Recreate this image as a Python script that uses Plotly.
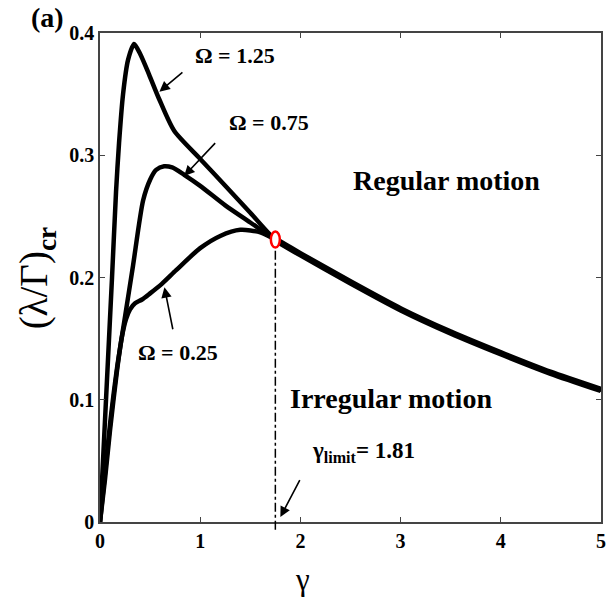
import plotly.graph_objects as go

# ---- data ----
omega_labels = ["Ω = 1.25", "Ω = 0.75", "Ω = 0.25"]

x_w125 = [0, 0.06, 0.12, 0.16, 0.19, 0.23, 0.28, 0.34, 0.40, 0.49, 0.59, 0.74, 1.0, 1.25, 1.5, 1.75]
y_w125 = [0, 0.10, 0.20, 0.27, 0.31, 0.35, 0.378, 0.391, 0.383, 0.366, 0.346, 0.320, 0.297, 0.275, 0.253, 0.231]

x_w075 = [0, 0.05, 0.10, 0.17, 0.25, 0.33, 0.43, 0.50, 0.56, 0.64, 0.72, 0.84, 1.0, 1.25, 1.5, 1.75]
y_w075 = [0, 0.04, 0.08, 0.126, 0.168, 0.210, 0.263, 0.280, 0.288, 0.291, 0.290, 0.284, 0.275, 0.259, 0.245, 0.231]

x_w025 = [0, 0.05, 0.10, 0.17, 0.22, 0.26, 0.30, 0.35, 0.42, 0.50, 0.62, 0.76, 1.0, 1.2, 1.4, 1.6, 1.75]
y_w025 = [0, 0.035, 0.075, 0.124, 0.152, 0.166, 0.174, 0.179, 0.182, 0.187, 0.195, 0.206, 0.224, 0.234, 0.239, 0.237, 0.231]

x_tail = [1.75, 2.0, 2.5, 3.0, 3.5, 4.0, 4.5, 5.0]
y_tail = [0.231, 0.219, 0.196, 0.174, 0.155, 0.138, 0.122, 0.108]

gamma_limit_x = 1.75
gamma_limit_y = 0.231

x_ticks = [0, 1, 2, 3, 4, 5]
y_ticks = [0, 0.1, 0.2, 0.3, 0.4]
y_tick_text = ["0", "0.1", "0.2", "0.3", "0.4"]
x_range = [0, 5]
y_range = [0, 0.4]

FONT = "Liberation Serif"

fig = go.Figure()
for xs, ys in [(x_w125, y_w125), (x_w075, y_w075), (x_w025, y_w025)]:
    fig.add_trace(go.Scatter(x=xs + x_tail[1:], y=ys + y_tail[1:], mode="lines",
                             line=dict(color="black", width=4.5, shape="spline", smoothing=0.7),
                             showlegend=False, hoverinfo="skip"))
fig.add_trace(go.Scatter(x=x_tail, y=y_tail, mode="lines",
                         line=dict(color="black", width=6.5, shape="spline", smoothing=0.6),
                         showlegend=False, hoverinfo="skip"))

# dash-dot vertical line at gamma limit
fig.add_shape(type="line", xref="x", yref="paper",
              x0=gamma_limit_x, x1=gamma_limit_x,
              y0=-0.016, y1=(gamma_limit_y - 0.006) / y_range[1],
              line=dict(color="black", width=1.5, dash="dashdot"))
# red open ellipse marker
fig.add_shape(type="circle", xref="x", yref="y", xsizemode="pixel", ysizemode="pixel",
              xanchor=gamma_limit_x, yanchor=gamma_limit_y,
              x0=-4.5, x1=4.5, y0=-8, y1=8,
              line=dict(color="red", width=2.5), fillcolor="white")


def txt(x, y, text, size=22, bold=True, xanchor="center"):
    fig.add_annotation(x=x, y=y, xref="x", yref="y", text=f"<b>{text}</b>" if bold else text,
                       showarrow=False, xanchor=xanchor, yanchor="middle",
                       font=dict(family=FONT, size=size, color="black"))


def arrow(x, y, ax, ay):
    fig.add_annotation(x=x, y=y, xref="x", yref="y", ax=ax, ay=ay, text=" ",
                       showarrow=True, arrowhead=2, arrowsize=1.3, arrowwidth=1.6,
                       arrowcolor="black", font=dict(size=2))


txt(1.345, 0.382, omega_labels[0])
txt(1.69, 0.327, omega_labels[1])
txt(0.78, 0.139, omega_labels[2])
txt(3.46, 0.279, "Regular motion", size=28)
txt(2.90, 0.101, "Irregular motion", size=28)
txt(2.10, 0.057, "γ<sub>limit</sub>= 1.81", size=23, xanchor="left")

arrow(0.593, 0.352, 25, -21)
arrow(0.84, 0.283, 33, -35)
arrow(0.643, 0.192, 9, 45)
arrow(1.80, 0.004, 21, -40)

# panel label and axis titles
fig.add_annotation(x=-0.105, y=1.031, xref="paper", yref="paper", text="<b>(a)</b>",
                   showarrow=False, xanchor="center", yanchor="middle",
                   font=dict(family=FONT, size=28, color="black"))
fig.add_annotation(x=-0.126, y=0.5, xref="paper", yref="paper",
                   text="(λ/Γ)<sub><b>cr</b></sub>", textangle=-90, showarrow=False,
                   xanchor="center", yanchor="middle",
                   font=dict(family=FONT, size=39, color="black"))
fig.add_annotation(x=0.405, y=-0.118, xref="paper", yref="paper", text="γ",
                   showarrow=False, xanchor="center", yanchor="middle",
                   font=dict(family=FONT, size=31, color="black"))

axis_common = dict(showline=True, linecolor="#444", linewidth=1.5, mirror="ticks",
                   ticks="inside", ticklen=5, tickwidth=1.3, tickcolor="#444",
                   showgrid=False, zeroline=False,
                   tickfont=dict(family=FONT, size=20, color="black"))
fig.update_xaxes(range=x_range, tickvals=x_ticks, ticktext=[f"<b>{v}</b>" for v in x_ticks],
                 **axis_common)
fig.update_yaxes(range=y_range, tickvals=y_ticks, ticktext=[f"<b>{t}</b>" for t in y_tick_text],
                 **axis_common)

fig.update_layout(width=611, height=600, plot_bgcolor="white", paper_bgcolor="white",
                  margin=dict(l=100, r=5, t=33, b=78), showlegend=False)
fig.write_html("out.html")
